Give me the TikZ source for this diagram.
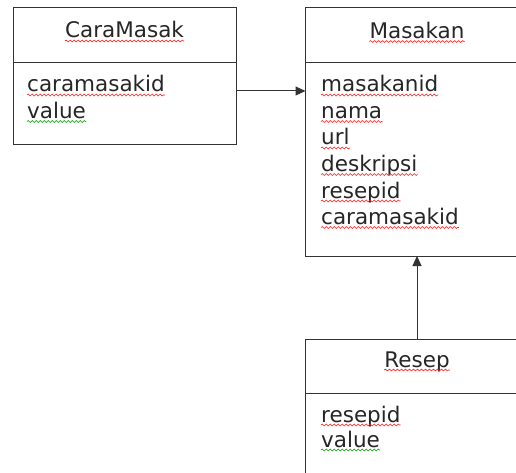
\documentclass[tikz,border=0pt]{standalone}
\usepackage{fontspec}
\setmainfont{DejaVu Sans}
\usetikzlibrary{positioning,arrows.meta,decorations.pathmorphing}

\begin{document}
\begin{tikzpicture}[x=1pt, y=-1pt]
    \tikzset{
        box/.style = {rectangle, draw=black!80, line width=1pt, minimum width=223pt, inner sep=0pt, outer sep=0pt},
        title/.style = {anchor=base, inner sep=0pt, font=\fontsize{21.5}{25}\selectfont, text=black!85},
        attr/.style = {anchor=base west, inner sep=0pt, font=\fontsize{21.5}{25}\selectfont, text=black!85},
        arrow/.style = {draw=black!80, line width=1pt, -{Triangle[length=10pt,width=9pt]}},
        typo/.style = {draw=red!90, line width=0.6pt, decorate, decoration={snake, segment length=4pt, amplitude=0.9pt}},
        gram/.style = {typo, draw=green!60!black}
    }
    \path[use as bounding box, clip] (0,0) rectangle (516,473);

    % tables
    \node (caraHead) [box, minimum height=55pt] at (124.5,35.5) {};
    \node (caraBody) [box, minimum height=82pt, below=0pt of caraHead] {};
    \node (masakHead) [box, minimum height=55pt] at (417,35.5) {};
    \node (masakBody) [box, minimum height=193pt, below=0pt of masakHead] {};
    \node (resepHead) [box, minimum height=54pt] at (417,366) {};
    \node (resepBody) [box, minimum height=83pt, below=0pt of resepHead] {};

    % titles
    \node (caraTitle) [title] at (124.5,38) {CaraMasak};
    \node (masakTitle) [title] at (417,38.5) {Masakan};
    \node (resepTitle) [title] at (417,367) {Resep};

    % fields
    \node (caraAttr1) [attr] at (27,92) {caramasakid};
    \node (caraAttr2) [attr] at (27,118.5) {value};
    \foreach \name [count=\i] in {masakanid,nama,url,deskripsi,resepid,caramasakid}
        \node (masakAttr\i) [attr] at (321,{92+26.5*(\i-1)}) {\name};
    \node (resepAttr1) [attr] at (321,422) {resepid};
    \node (resepAttr2) [attr] at (321,447) {value};

    % spelling marks
    \foreach \n in {caraTitle,masakTitle,resepTitle,caraAttr1,resepAttr1,masakAttr1,masakAttr2,masakAttr3,masakAttr4,masakAttr5,masakAttr6}
        \draw[typo] ([yshift=-3pt]\n.base west) -- ([yshift=-3pt]\n.base east);
    \foreach \n in {caraAttr2,resepAttr2}
        \draw[gram] ([yshift=-3pt]\n.base west) -- ([yshift=-3pt]\n.base east);

    % links
    \coordinate (linkStart) at ([yshift=13pt]caraBody.east);
    \draw[arrow] (linkStart) -- (linkStart -| masakBody.west);
    \draw[arrow] (resepHead.north) -- (masakBody.south);
\end{tikzpicture}
\end{document}
